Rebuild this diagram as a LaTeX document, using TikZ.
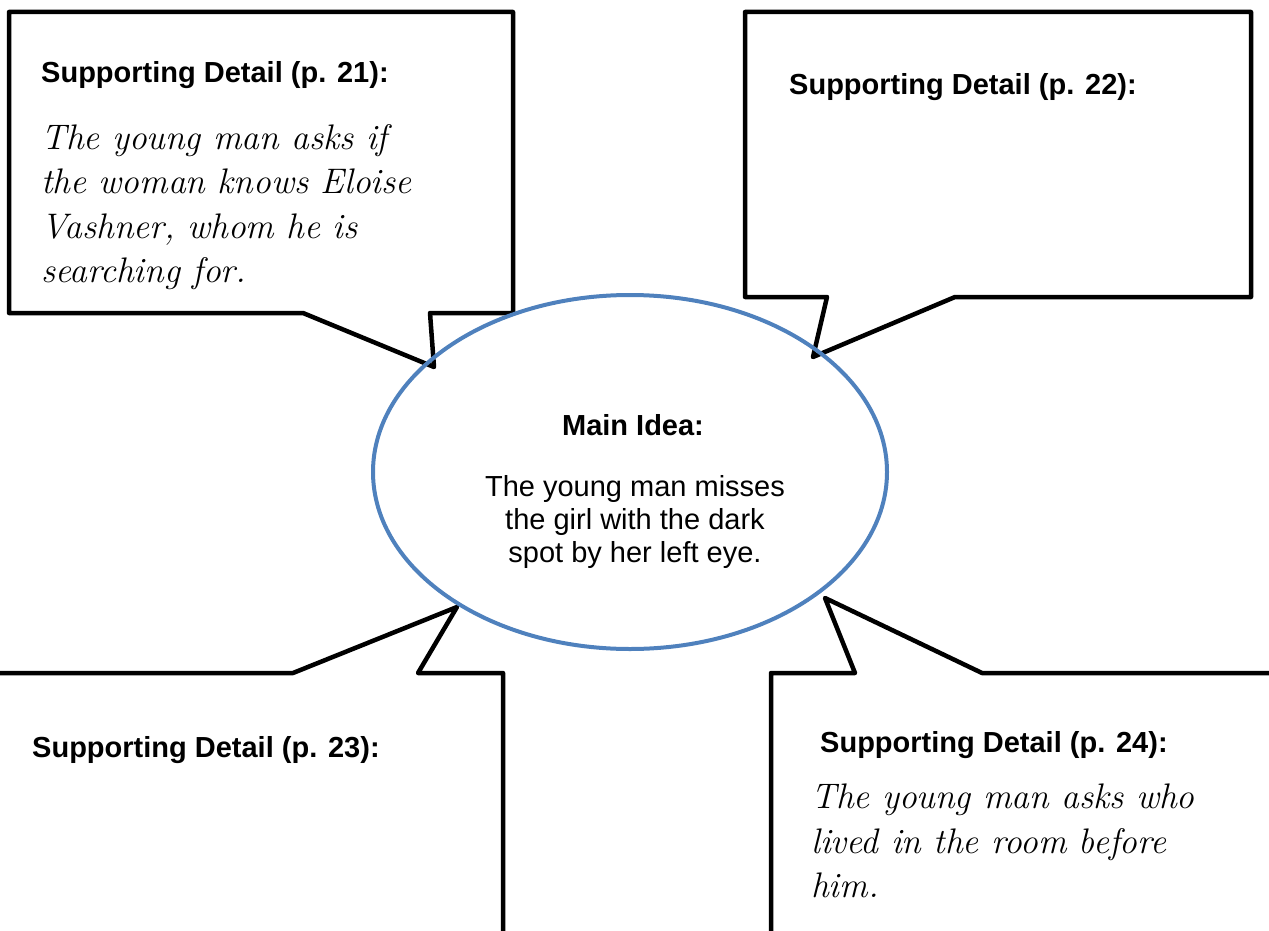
\documentclass[tikz,border=0pt]{standalone}
\usepackage{fontspec}
\usepackage{tikz}
\usetikzlibrary{shapes.geometric, positioning}
\newfontfamily\arialfont{Liberation Sans}
\definecolor{ideablue}{HTML}{4F81BD}

\begin{document}
\begin{tikzpicture}[x=1pt, y=-1pt,
    callout/.style={draw=black, line width=4.5pt, line join=round, fill=white},
    idea/.style={ellipse, draw=ideablue, line width=4pt, minimum width=514pt, minimum height=354pt},
    heading/.style={font=\arialfont\bfseries\fontsize{29}{33}\selectfont, anchor=base west, inner sep=0pt},
    answer/.style={font=\itshape\fontsize{35.5}{44.5}\selectfont, align=left, anchor=north west, inner sep=0pt},
    plain/.style={font=\arialfont\fontsize{29}{33}\selectfont, align=center, inner sep=0pt}
]
\useasboundingbox (0,0) rectangle (1269,931);
\clip (0,0) rectangle (1269,931);

% Callout boxes with their pointers
\draw[callout] (9,12) -- (513,12) -- (513,313) -- (430,313) -- (434,367) -- (303,313) -- (9,313) -- cycle;
\draw[callout] (745,12) -- (1251,12) -- (1251,297) -- (955,297) -- (813,357) -- (827,297) -- (745,297) -- cycle;
\draw[callout] (-10,673) -- (293,673) -- (457,607) -- (418,673) -- (503,673) -- (503,945) -- (-10,945);
\draw[callout] (771,945) -- (771,673) -- (855,673) -- (825,598) -- (982,673) -- (1280,673) -- (1280,945);

% Main idea
\node[idea] (main) at (630,472) {};
\node[plain, anchor=base, font=\arialfont\bfseries\fontsize{29}{33}\selectfont] (mainhead) at (633,435) {Main Idea:};
\node[plain, anchor=north] (maintext) at (635,475) {The young man misses\\the girl with the dark\\spot by her left eye.};

% Supporting details
\node[heading] (head21) at (41,83) {Supporting Detail (p. 21):};
\node[answer] (text21) at (41,124) {The young man asks if\\the woman knows Eloise\\Vashner, whom he is\\searching for.};
\node[heading] (head22) at (789,95) {Supporting Detail (p. 22):};
\node[heading] (head23) at (32,757) {Supporting Detail (p. 23):};
\node[heading] (head24) at (820,752) {Supporting Detail (p. 24):};
\node[answer] (text24) at (811,784) {The young man asks who\\lived in the room before\\him.};

\end{tikzpicture}
\end{document}
